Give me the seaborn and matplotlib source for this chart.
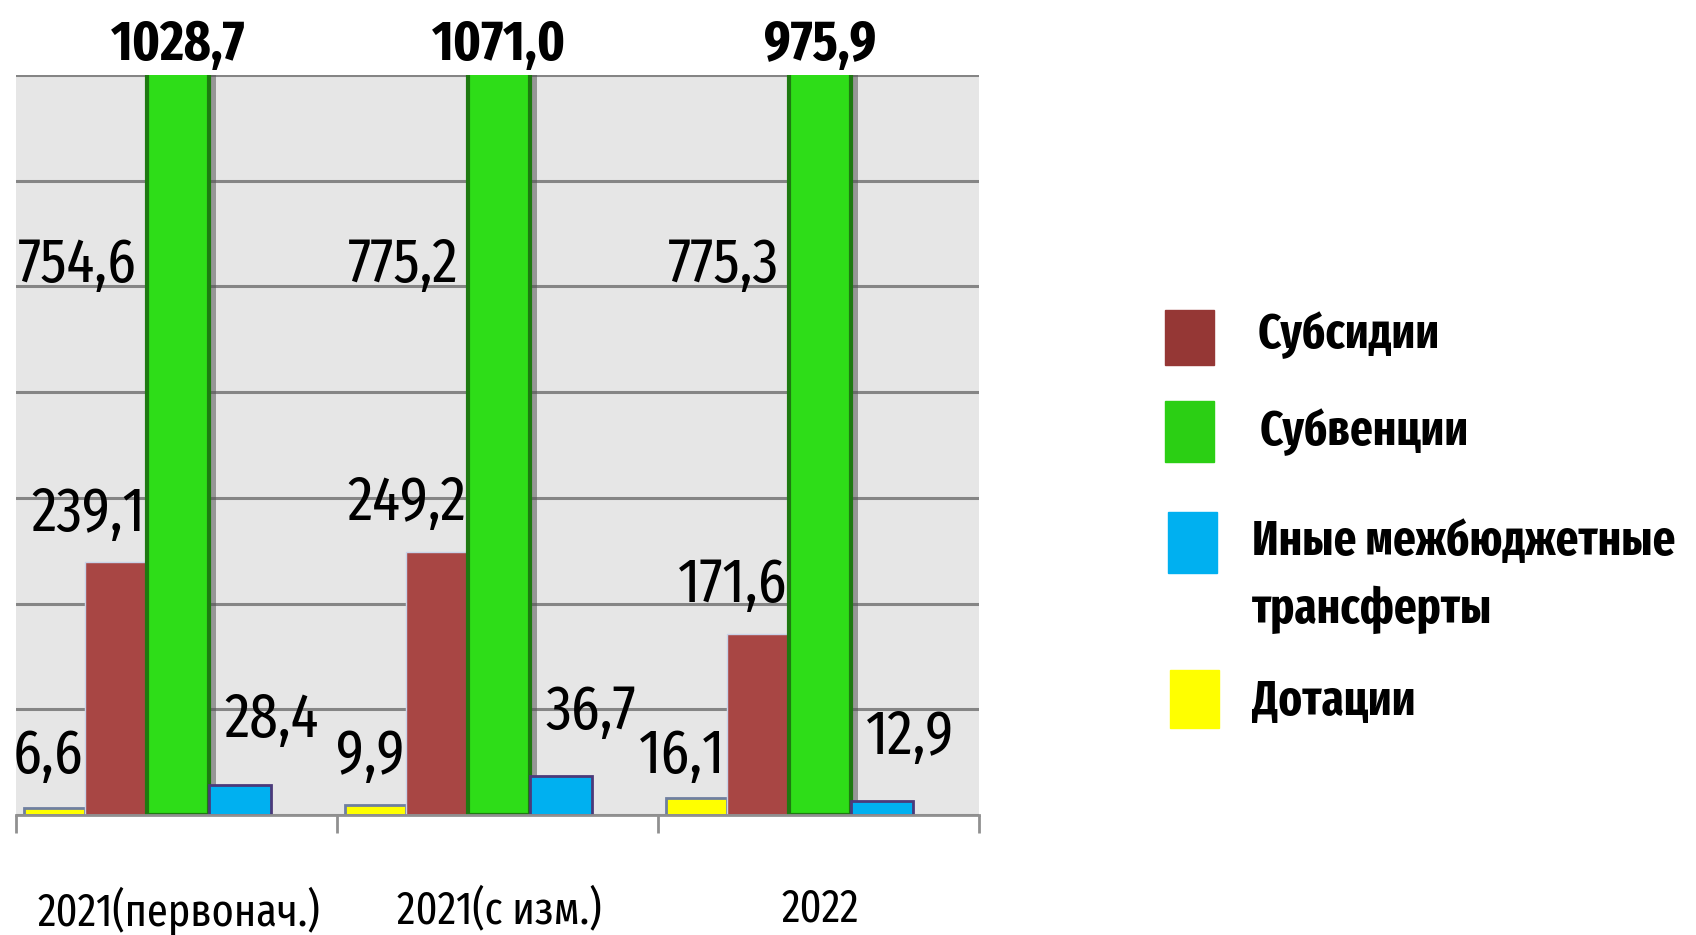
import numpy as np
import pandas as pd
import seaborn as sns
import matplotlib.pyplot as plt
from matplotlib.patches import Rectangle
from matplotlib import patheffects

# data
groups = ['2021(первонач.)', '2021(с изм.)', '2022']
series = ['Дотации', 'Субсидии', 'Субвенции', 'Иные межбюджетные трансферты']
dotacii = [6.6, 9.9, 16.1]
subsidii = [239.1, 249.2, 171.6]
subvencii = [754.6, 775.2, 775.3]
inye = [28.4, 36.7, 12.9]
totals = [1028.7, 1071.0, 975.9]

colors = {'Дотации': '#FFFF00', 'Субсидии': '#A84644',
          'Субвенции': '#2EDD18', 'Иные межбюджетные трансферты': '#00B0F0'}
legend_colors = {'Дотации': '#FFFF00', 'Субсидии': '#953735',
                 'Субвенции': '#2BCF14', 'Иные межбюджетные трансферты': '#00B0F0'}

df = pd.DataFrame({
	'group': np.repeat(groups, 4),
	'series': series * 3,
	'value': [v for trio in zip(dotacii, subsidii, subvencii, inye) for v in trio],
})

sns.set_style('white')
FONT = ['Fira Sans Extra Condensed', 'Fira Sans Condensed', 'DejaVu Sans']
plt.rcParams['font.family'] = FONT
plt.rcParams['text.color'] = 'black'
plt.rcParams['xtick.color'] = 'black'

def fmt(v):
	return f'{v:.1f}'.replace('.', ',')

W, H = 1696, 935
fig = plt.figure(figsize=(W / 100, H / 100), dpi=100)
ax = fig.add_axes([16 / W, 1 - 815 / H, (979 - 16) / W, (815 - 75) / H])

sns.barplot(data=df, x='group', y='value', hue='series', hue_order=series,
			palette=colors, width=0.77, saturation=1, errorbar=None,
			legend=False, ax=ax)

ax.set_facecolor('#E6E6E6')
ax.set_ylim(0, 700)
shift = 0.097  # group centre sits right of the bar cluster
ax.set_xlim(-0.5 + shift - 0.006, 2.5 + shift - 0.006)
ax.set_yticks(np.arange(0, 701, 100))
ax.set_yticklabels([])
ax.yaxis.grid(True, color='#858585', lw=2.2)
ax.set_axisbelow(True)
for s in ['left', 'right', 'top']:
	ax.spines[s].set_visible(False)
ax.spines['bottom'].set_color('#909090')
ax.spines['bottom'].set_linewidth(2)
ax.tick_params(axis='y', length=0)

ax.set_xticks(np.arange(3) + shift)
ax.set_xticklabels(groups, fontsize=33, color='black')
ax.tick_params(axis='x', which='major', length=0, pad=52)
ax.set_xticks(np.arange(4) - 0.5 + shift - 0.006, minor=True)
ax.tick_params(axis='x', which='minor', bottom=True, length=13, width=2,
			   color='#909090', direction='out')
ax.set_xlabel('')
ax.set_ylabel('')

edge = {'Дотации': '#6F7FA0', 'Субсидии': '#C9D3E8',
        'Субвенции': '#1D7A10', 'Иные межбюджетные трансферты': '#4B3A7A'}
lw = {'Дотации': 2, 'Субсидии': 1, 'Субвенции': 3, 'Иные межбюджетные трансферты': 2}
for name, cont in zip(series, ax.containers):
	for bar in cont:
		bar.set_edgecolor(edge[name])
		bar.set_linewidth(lw[name])
		if name == 'Субвенции':
			bar.set_path_effects([patheffects.SimplePatchShadow(offset=(5, -2), shadow_rgbFace='#555555', alpha=0.55),
								  patheffects.Normal()])

px = 1 / 321  # one pixel in x data units
c_dot, c_sub, c_sbv, c_oth = ax.containers
for i in range(3):
	b = c_dot[i]
	ax.text(b.get_x() + b.get_width() - 2 * px, 40, fmt(dotacii[i]),
			ha='right', va='baseline', fontsize=45)
	b = c_sub[i]
	ax.text(b.get_x() + b.get_width() - 2 * px, subsidii[i] + 30, fmt(subsidii[i]),
			ha='right', va='baseline', fontsize=45)
	b = c_sbv[i]
	ax.text(b.get_x() - 10 * px, 504, fmt(subvencii[i]),
			ha='right', va='baseline', fontsize=45)
	b = c_oth[i]
	ax.text(b.get_x() + 15 * px, inye[i] + 45, fmt(inye[i]),
			ha='left', va='baseline', fontsize=45)
	ax.text(i + shift, 700 + 15 * 0.946, fmt(totals[i]),
			ha='center', va='baseline', fontsize=40, fontweight='bold', clip_on=False)

# legend drawn by hand so the square sits next to the first line of a wrapped label
leg = [('Субсидии', 310, 365, 1165, 1258, [(348, 'Субсидии')]),
       ('Субвенции', 401, 462, 1165, 1260, [(445, 'Субвенции')]),
       ('Иные межбюджетные трансферты', 512, 573, 1168, 1252,
        [(555, 'Иные межбюджетные'), (623, 'трансферты')]),
       ('Дотации', 670, 728, 1170, 1252, [(715, 'Дотации')])]
for name, y0, y1, x0, tx, lines in leg:
	fig.patches.append(Rectangle((x0 / W, 1 - y1 / H), 49 / W, (y1 - y0) / H,
								 transform=fig.transFigure, color=legend_colors[name]))
	for base, line in lines:
		fig.text(tx / W, 1 - base / H, line, ha='left', va='baseline', fontsize=35,
				 fontweight='bold')

fig.savefig('out.png', dpi=100)
